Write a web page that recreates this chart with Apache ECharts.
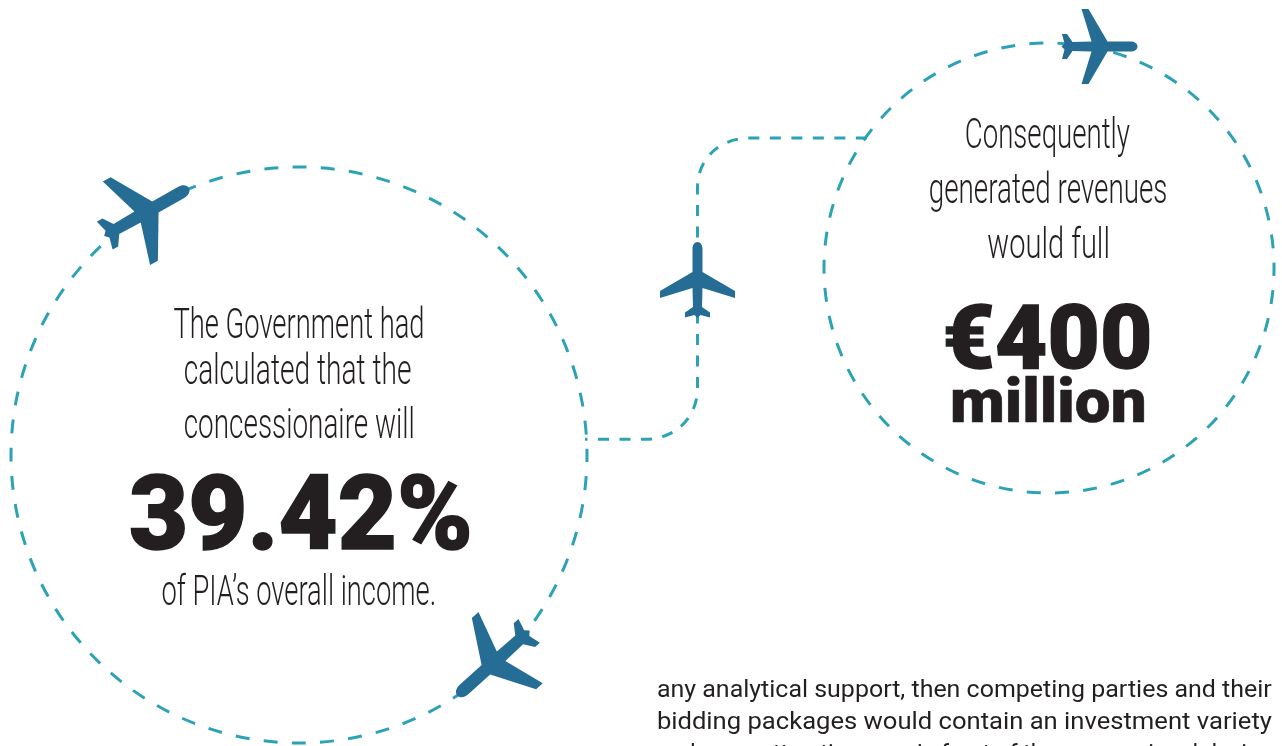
<!DOCTYPE html>
<html><head><meta charset="utf-8">
<style>html,body{margin:0;padding:0;background:#fff}#c{width:1282px;height:746px}</style>
<script src="https://cdn.jsdelivr.net/npm/echarts@6/dist/echarts.min.js"></script>
</head><body><div id="c"></div>
<script>
const leftIntro = ["The Government had", "calculated that the", "concessionaire will"];
const leftValue = "39.42%";
const leftOutro = "of PIA\u2019s overall income.";
const rightIntro = ["Consequently", "generated revenues", "would full"];
const rightValue = "\u20ac400";
const rightUnit = "million";
const bodyLines = ["any analytical support, then competing parties and their",
  "bidding packages would contain an investment variety",
  "and more attractive even in front of the concessional design"];

const TEAL = '#2ba2b5', BLUE = '#266d96', INK = '#231f20';
const PLANE = 'M0 -38 C3 -38 5 -35 5 -31 L5 -8 L37.5 11 L37.5 18 L5 8 L4.5 27 L12.5 32.5 L12.5 37.5 L3 35 L0 38 L-3 35 L-12.5 37.5 L-12.5 32.5 L-4.5 27 L-5 8 L-37.5 18 L-37.5 11 L-5 -8 L-5 -31 C-5 -35 -3 -38 0 -38 Z';
const ROUTE = 'M585 439.3 L645 439.3 C675 439.3 697.5 418 697.5 388 L697.5 188 C697.5 158 720 138 750 138 L868 138';
echarts.graphic.registerShape('planeShape', echarts.graphic.extendPath(PLANE, {}));
echarts.graphic.registerShape('routeShape', echarts.graphic.extendPath(ROUTE, {}));
const ctx = document.createElement('canvas').getContext('2d');

function label(text, font, left, right, baseline, capH, heavy) {
  ctx.font = font; ctx.textBaseline = 'middle';
  const m = ctx.measureText(text), h = ctx.measureText('H');
  const w = m.actualBoundingBoxRight + m.actualBoundingBoxLeft;
  const d = h.actualBoundingBoxDescent, H = h.actualBoundingBoxAscent + d;
  const sx = (right - left) / w;
  const style = {text, font, x:0, y:-d, fill:INK, textAlign:'left', verticalAlign:'middle'};
  if (heavy) { style.stroke = INK; style.lineWidth = heavy; }
  return {type:'text', silent:true, z:5, x:left + m.actualBoundingBoxLeft * sx, y:baseline,
    scaleX:sx, scaleY:capH ? capH / H : 1, style};
}
function ring(cx, cy, r, off) {
  const period = 2 * Math.PI * r / Math.round(2 * Math.PI * r / 28.27);
  return {type:'circle', silent:true, z:1, shape:{cx, cy, r},
    style:{fill:'none', stroke:TEAL, lineWidth:3, lineDash:[14, period - 14], lineDashOffset:off}};
}
function plane(x, y, s, deg) {
  return {type:'planeShape', silent:true, z:3, x, y, scaleX:s, scaleY:s, rotation:-deg * Math.PI / 180,
    style:{fill:BLUE}};
}
const light = '300 44px Roboto', black = '900 105px Roboto', body = '400 23px Roboto';
const graphic = [
  ring(299, 455, 288, 7), ring(1049, 268, 225, 6),
  {type:'routeShape', silent:true, z:1, style:{fill:'none', stroke:TEAL, lineWidth:3, lineDash:[11,10.5], lineDashOffset:8.5}},
  plane(697.5, 280, 1, 0), plane(1099.5, 46.5, 1, 90), plane(146.5, 212, 1.28, 60.5), plane(493.5, 663, 1.28, 228),
  label(leftIntro[0], light, 174, 423, 338, 31),
  label(leftIntro[1], light, 185, 411, 384, 31),
  label(leftIntro[2], light, 185, 413, 438, 31),
  label(leftValue, black, 131, 469, 550, 75, 1.5),
  label(leftOutro, light, 162, 434, 605, 31),
  label(rightIntro[0], light, 966, 1130, 148, 31),
  label(rightIntro[1], light, 930, 1166, 203, 31),
  label(rightIntro[2], light, 988, 1108, 258, 31),
  label(rightValue, black, 946, 1149, 369, 64, 1.5),
  label(rightUnit, black, 953, 1144, 423, 44, 1),
  label(bodyLines[0], body, 658, 1272, 697),
  label(bodyLines[1], body, 658, 1272, 729),
  label(bodyLines[2], body, 658, 1272, 761)
];
echarts.init(document.getElementById('c')).setOption({animation:false, graphic:{elements:graphic}});
</script></body></html>
